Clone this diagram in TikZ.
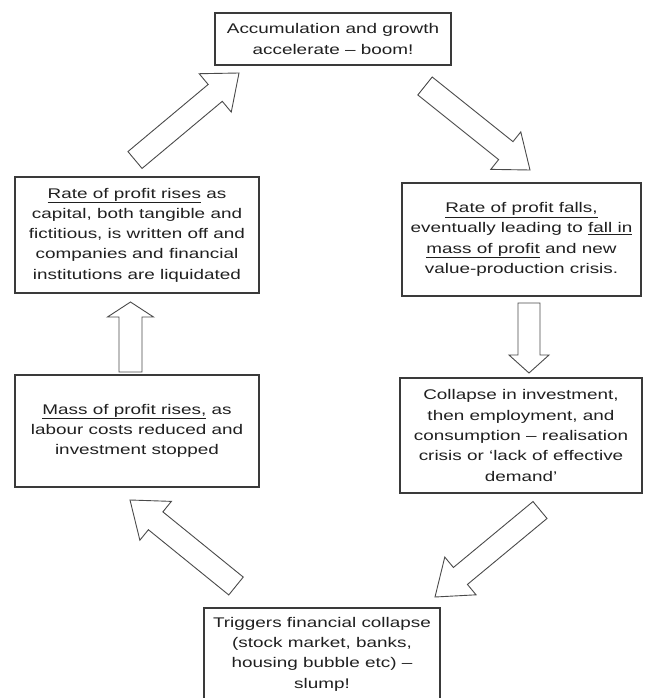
\documentclass[tikz,border=0pt]{standalone}
\usepackage{fontspec}
\setmainfont{Liberation Sans}[FakeStretch=1.35]
\usetikzlibrary{calc}
\definecolor{boxline}{HTML}{3A3A3A}
\definecolor{arrline}{HTML}{4A4A4A}
\definecolor{txt}{HTML}{202020}
\newcommand{\blockarrow}[5]{%
  \coordinate (neck) at ($(#2)!#5!(#1)$);
  \draw[arrowline] ($(#1)!#3!90:(#2)$) -- ($(neck)!#3!90:(#2)$) -- ($(neck)!#4!90:(#2)$) -- (#2)
    -- ($(neck)!#4!-90:(#2)$) -- ($(neck)!#3!-90:(#2)$) -- ($(#1)!#3!-90:(#2)$) -- cycle;}
\begin{document}
\begin{tikzpicture}[x=1pt,y=-1pt,
  box/.style={draw=boxline, line width=1.3pt, fill=white, align=center, inner sep=0pt,
    text=txt, font=\fontsize{14}{20.3}\selectfont},
  arrowline/.style={draw=arrline, line width=0.9pt, fill=white, line join=miter}]
\useasboundingbox (0,0) rectangle (646,698);

\node[box, minimum width=236pt, minimum height=52pt] (boom) at (333,39)
  {Accumulation and growth\\ accelerate -- boom!};
\node[box, minimum width=244pt, minimum height=116pt] (rises) at (137,235)
  {\underline{Rate of profit rises} as\\ capital, both tangible and\\ fictitious, is written off and\\ companies and financial\\ institutions are liquidated};
\node[box, minimum width=239pt, minimum height=113pt] (falls) at (521.5,239.5)
  {\underline{Rate of profit falls,}\\ eventually leading to \underline{fall in}\\ \underline{mass of profit} and new\\ value-production crisis.};
\node[box, minimum width=242pt, minimum height=115pt] (collapse) at (521,435.5)
  {Collapse in investment,\\ then employment, and\\ consumption -- realisation\\ crisis or ‘lack of effective\\ demand’};
\node[box, minimum width=244pt, minimum height=112pt] (mass) at (137,431)
  {\underline{Mass of profit rises,} as\\ labour costs reduced and\\ investment stopped};
\node[box, minimum width=236pt, minimum height=92pt] (slump) at (322,654)
  {Triggers financial collapse\\ (stock market, banks,\\ housing bubble etc) --\\ slump!};

\coordinate (a1t) at (135,160);   \coordinate (a1h) at (239,73);
\coordinate (a2t) at (425,86);    \coordinate (a2h) at (530,170);
\coordinate (a3t) at (130.5,372); \coordinate (a3h) at (130.5,302);
\coordinate (a4t) at (529,303);   \coordinate (a4h) at (529,373);
\coordinate (a5t) at (540,510);   \coordinate (a5h) at (435,597);
\coordinate (a6t) at (236,586);   \coordinate (a6h) at (130,500);

\blockarrow{a1t}{a1h}{11pt}{25pt}{31pt}
\blockarrow{a2t}{a2h}{11.5pt}{24pt}{31pt}
\blockarrow{a3t}{a3h}{11.5pt}{23pt}{15pt}
\blockarrow{a4t}{a4h}{11pt}{20pt}{18pt}
\blockarrow{a5t}{a5h}{11pt}{24.5pt}{33pt}
\blockarrow{a6t}{a6h}{11.5pt}{25pt}{33pt}
\end{tikzpicture}
\end{document}
